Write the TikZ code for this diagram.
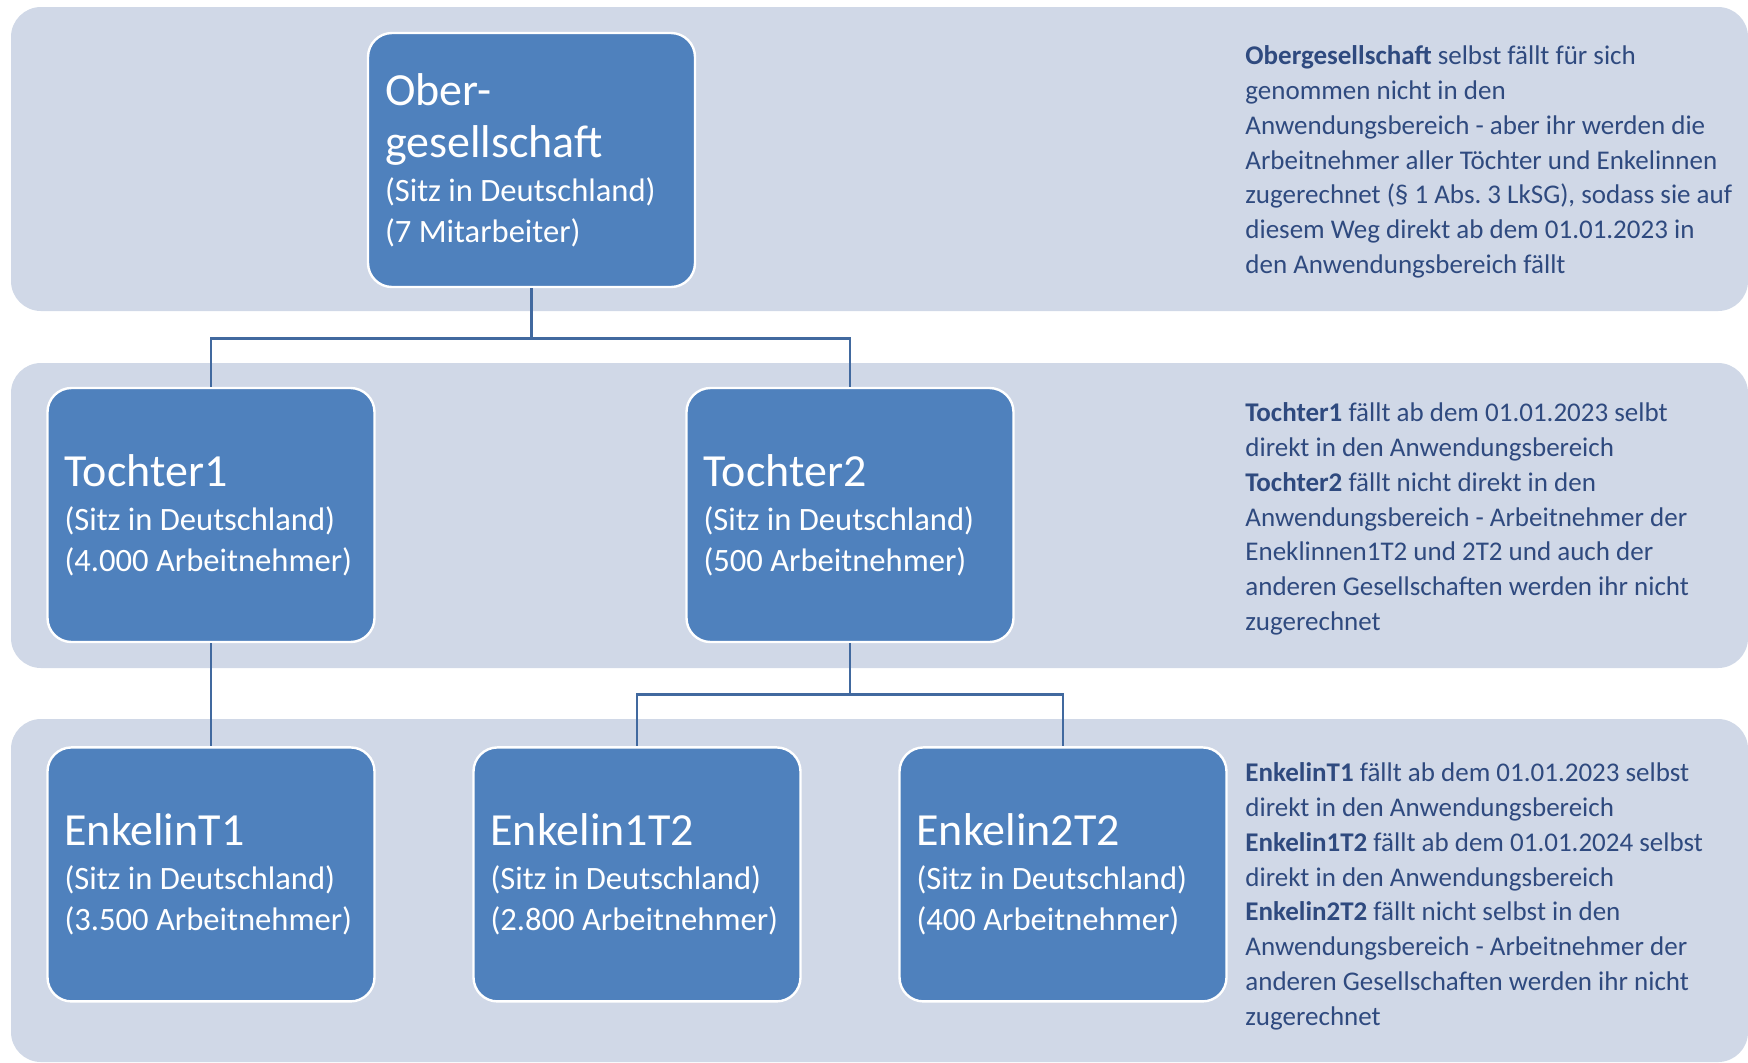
\documentclass[tikz,border=0pt]{standalone}
\usepackage{fontspec}
\setmainfont{Carlito}
\usepackage{xcolor}
\usepackage{tikz}
\usetikzlibrary{positioning}
\frenchspacing

\definecolor{bandgray}{HTML}{D0D8E7}
\definecolor{boxblue}{HTML}{4F81BD}
\definecolor{linkblue}{HTML}{41699F}
\definecolor{noteblue}{HTML}{2F4A7F}

\newcommand{\boxtitle}[1]{{\fontsize{23}{26}\selectfont #1\par}\vspace{1.5pt}}

\begin{document}
\begin{tikzpicture}[
  x=0.5pt, y=-0.5pt,
  band/.style={fill=bandgray, rounded corners=15pt},
  box/.style={draw=white, line width=1.2pt, fill=boxblue, rounded corners=12pt, text=white, align=flush left, text width=146.5pt, minimum width=163.5pt, minimum height=127pt, inner xsep=8.5pt, inner ysep=0pt, font=\fontsize{16.3}{20.6}\selectfont},
  note/.style={anchor=north west, inner sep=0pt, align=left, text=noteblue, font=\fontsize{13.5}{17.45}\selectfont},
  conn/.style={draw=linkblue, line width=1.3pt}
]
  \useasboundingbox (0,0) rectangle (1748,1062);
  % background bands
  \fill[band] (11,7) rectangle (1748,311);
  \fill[band] (11,363) rectangle (1748,668);
  \fill[band] (11,719) rectangle (1748,1062);

  \node[box] (ober) at (531.5,160) {\boxtitle{Ober-\\gesellschaft}(Sitz in Deutschland)\\(7 Mitarbeiter)};
  \node[box] (t1) at (211,515) {\boxtitle{Tochter1}(Sitz in Deutschland)\\(4.000 Arbeitnehmer)};
  \node[box, right=154.8pt of t1] (t2) {\boxtitle{Tochter2}(Sitz in Deutschland)\\(500 Arbeitnehmer)};

  \node[box, below=51.5pt of t1] (e1) {\boxtitle{EnkelinT1}(Sitz in Deutschland)\\(3.500 Arbeitnehmer)};
  \node[box, right=48.3pt of e1] (e1t2) {\boxtitle{Enkelin1T2}(Sitz in Deutschland)\\(2.800 Arbeitnehmer)};
  \node[box, right=48.3pt of e1t2] (e2t2) {\boxtitle{Enkelin2T2}(Sitz in Deutschland)\\(400 Arbeitnehmer)};

  % notes on the right
  \node[note] (n1) at (1245,45) {\textbf{Obergesellschaft} selbst fällt für sich\\genommen nicht in den\\Anwendungsbereich - aber ihr werden die\\Arbeitnehmer aller Töchter und Enkelinnen\\zugerechnet (§ 1 Abs. 3 LkSG), sodass sie auf\\diesem Weg direkt ab dem 01.01.2023 in\\den Anwendungsbereich fällt};
  \node[note] (n2) at (1245,402) {\textbf{Tochter1} fällt ab dem 01.01.2023 selbt\\direkt in den Anwendungsbereich\\\textbf{Tochter2} fällt nicht direkt in den\\Anwendungsbereich - Arbeitnehmer der\\Eneklinnen1T2 und 2T2 und auch der\\anderen Gesellschaften werden ihr nicht\\zugerechnet};
  \node[note] (n3) at (1245,762) {\textbf{EnkelinT1} fällt ab dem 01.01.2023 selbst\\direkt in den Anwendungsbereich\\\textbf{Enkelin1T2} fällt ab dem 01.01.2024 selbst\\direkt in den Anwendungsbereich\\\textbf{Enkelin2T2} fällt nicht selbst in den\\Anwendungsbereich - Arbeitnehmer der\\anderen Gesellschaften werden ihr nicht\\zugerechnet};

  \draw[conn] (ober.south) -- ++(0,-25pt) -| (t1.north);
  \draw[conn] (ober.south) -- ++(0,-25pt) -| (t2.north);
  \draw[conn] (t1) -- (e1);
  \draw[conn] (t2.south) -- ++(0,-25.5pt) -| (e1t2.north);
  \draw[conn] (t2.south) -- ++(0,-25.5pt) -| (e2t2.north);
\end{tikzpicture}
\end{document}
